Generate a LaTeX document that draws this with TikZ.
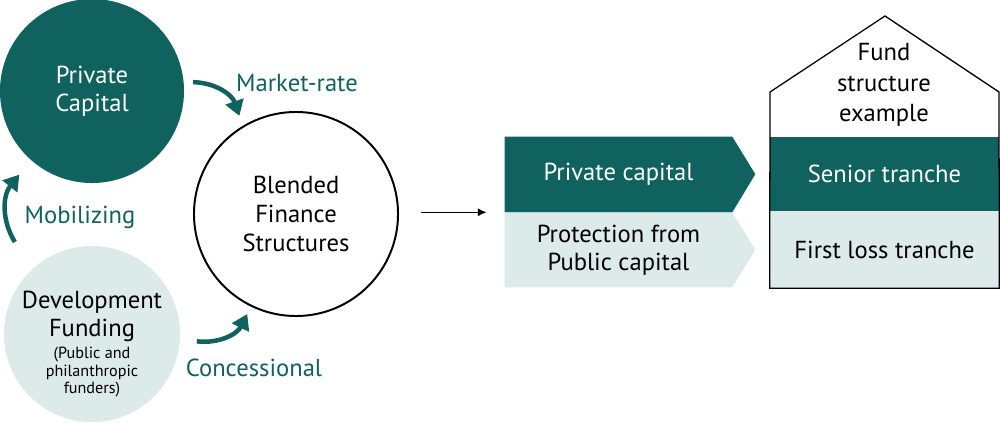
\documentclass[tikz,border=0pt]{standalone}
\usepackage{fontspec}
\setmainfont{PT Sans}
\usetikzlibrary{arrows.meta, positioning, calc, backgrounds}
\definecolor{bfdark}{RGB}{15,98,94}
\definecolor{bflight}{RGB}{220,234,233}

\begin{document}
\begin{tikzpicture}[x=0.025cm, y=-0.025cm, font=\fontsize{17.5}{20}\selectfont,
    flow/.style={line width=3.2pt, bfdark, -{Triangle[length=0.38cm, width=0.46cm]}},
    flowlabel/.style={text=bfdark},
    band/.style={inner sep=0pt, minimum width=5.725cm}]
  \useasboundingbox (0,0) rectangle (1000,423);

  % three circles
  \node[circle, fill=bfdark, minimum size=4.6cm, inner sep=0pt, text=white, align=center] (pc) at (92,91) {Private\\Capital};
  \node[circle, fill=bflight, minimum size=4.4cm, inner sep=0pt] (df) at (92,334) {};
  \node[align=center] (dft) at (92,316) {Development\\Funding};
  \node[below=-3pt of dft, align=center, font=\fontsize{11.5}{12.5}\selectfont] (dfs) {(Public and\\philanthropic\\funders)};
  \node[circle, draw, line width=1.4pt, minimum size=5.1cm, inner sep=0pt, align=center, font=\fontsize{17.5}{20.5}\selectfont] (bfs) at (296,214) {Blended\\Finance\\Structures};

  \node[flowlabel] (mr) at (297,83) {Market-rate};
  \node[flowlabel] (mob) at (80,217) {Mobilizing};
  \node[flowlabel] (con) at (254,368) {Concessional};

  \draw[flow] ($(pc.center)!1.1!(pc.5)$) to[bend left=35] ($(bfs.center)!1.1!(bfs.120)$);
  \draw[flow] ($(df.center)!1.36!(df.130)$) to[bend left=35] ($(pc.center)!1.2!(pc.229)$);
  \draw[flow] ($(df.center)!1.19!(df.-4)$) to[bend right=35] ($(bfs.center)!1.08!(bfs.244)$);

  % capital stack arrows
  \node[band, text=white, minimum width=5.675cm, minimum height=1.875cm] (pcb) at (618.5,174.5) {Private capital};
  \node[band, minimum width=5.675cm, minimum height=1.85cm, align=center] (prb) at (618.5,250) {Protection from\\Public capital};
  \begin{scope}[on background layer]
    \fill[bfdark] (pcb.north west) -- (pcb.north east) -- ++(23,37.5) -- (pcb.south east) -- (pcb.south west) -- cycle;
    \fill[bflight] (prb.north west) -- (prb.north east) -- ++(23,37) -- (prb.south east) -- (prb.south west) -- cycle;
  \end{scope}

  \draw[-{Latex[length=0.22cm, width=0.2cm]}, line width=1pt, shorten <=0.55cm, shorten >=0.45cm]
    (bfs.east |- pcb.south west) -- (pcb.south west);

  % fund house
  \node[band, fill=bfdark, text=white, minimum height=1.85cm] (st) at (884.5,174) {Senior tranche};
  \node[band, fill=bflight, minimum height=1.925cm] (fl) at (884.5,249.5) {First loss tranche};
  \coordinate (eavel) at (770,92);
  \coordinate (eaver) at (999,92);
  \coordinate (peak) at (885,16);
  \draw[line width=0.9pt] (fl.south west) -- (eavel) -- (peak) -- (eaver) -- (fl.south east) -- cycle;
  \node[align=center, font=\fontsize{17.5}{21.5}\selectfont] (fse) at (884,85) {Fund\\structure\\example};
\end{tikzpicture}
\end{document}
